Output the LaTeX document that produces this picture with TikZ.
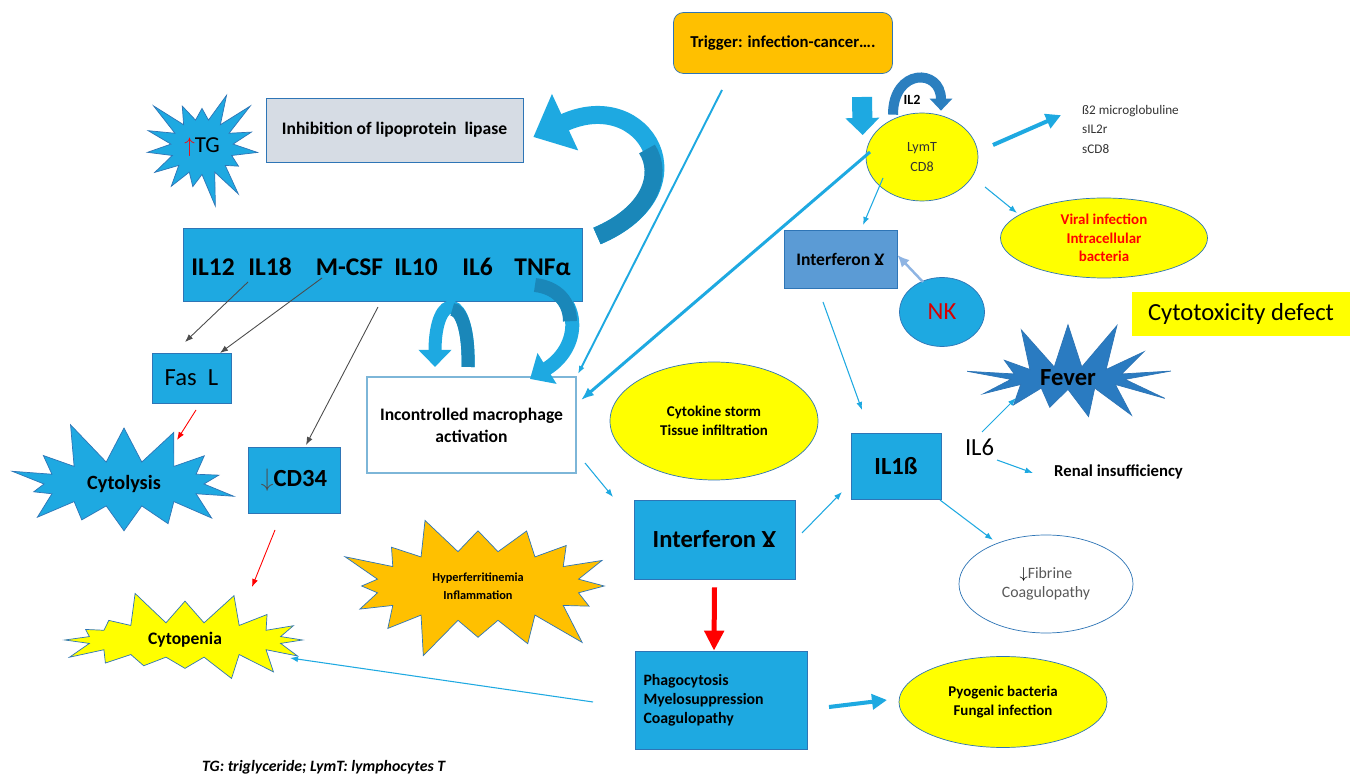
\documentclass[tikz,border=0pt]{standalone}
\usepackage{fontspec}
\setmainfont{Carlito}
\usetikzlibrary{arrows.meta, positioning, shapes.geometric, shapes.symbols}

\definecolor{hlhblue}{HTML}{1EA9E1}
\definecolor{hlhdark}{HTML}{1A87B9}
\definecolor{edgeblue}{HTML}{2E75B6}
\definecolor{steelblue}{HTML}{5B9BD5}
\definecolor{feverblue}{HTML}{2A7BC1}
\definecolor{nkline}{HTML}{8EB4E3}
\definecolor{macroedge}{HTML}{7DB6D8}
\definecolor{hlhyellow}{HTML}{FFFF00}
\definecolor{hlhorange}{HTML}{FFC000}
\definecolor{hlhgray}{HTML}{D6DCE4}

\newcommand{\fsize}[2]{\fontsize{#1}{#2}\selectfont}

\begin{document}
\begin{tikzpicture}[
  x=0.2mm, y=-0.2mm,
  box/.style={
    draw=edgeblue,
    fill=hlhblue,
    align=center,
    inner sep=0pt
  },
  blob/.style={
    ellipse,
    draw=edgeblue,
    fill=hlhyellow,
    align=center,
    inner sep=0pt
  },
  burst/.style={
    starburst,
    draw=edgeblue,
    fill=hlhblue,
    align=center,
    inner sep=0pt
  },
  link/.style={-{Latex[length=1.6mm, width=1.2mm]}, draw=hlhblue, line width=0.6pt},
  greylink/.style={-{Latex[length=1.6mm, width=1.2mm]}, draw=black!70, line width=0.5pt},
  redlink/.style={-{Latex[length=1.6mm, width=1.2mm]}, draw=red, line width=0.5pt},
  fatlink/.style={-{Triangle[length=3mm, width=3mm]}, draw=hlhblue, line width=2.3pt},
  bendarrow/.style={draw=hlhblue}
]

\fill[white] (0,0) rectangle (1352,778);
\useasboundingbox (0,0) rectangle (1352,778);

% --- Top row ---
\node[box, fill=hlhorange, rounded corners=2mm, minimum width=43.8mm, minimum height=12.2mm,
  font=\bfseries\fsize{9.5}{11}] (trigger) at (783,43) {Trigger: infection-cancer….};

\node[burst, random starburst=3, starburst points=15, starburst point height=7mm,
  minimum width=26.5mm, minimum height=25mm, font=\fsize{13}{15}] (tg) at (202,147)
{\textcolor{red}{$\uparrow$}TG};

\node[box, fill=hlhgray, minimum width=51.4mm, minimum height=12.8mm,
  font=\bfseries\fsize{10}{12}] (inhib) at (394.5,130) {Inhibition of lipoprotein~~lipase};

% --- Cytokines ---
\node[box, minimum width=79.8mm, minimum height=14.6mm] (cyto) at (382.5,264.5) {};
\node[font=\bfseries\fsize{14.5}{16}] (il12) at (213,267) {IL12};
\node[font=\bfseries\fsize{14.5}{16}] (il18) at (270,267) {IL18};
\node[font=\bfseries\fsize{14.5}{16}] (mcsf) at (349.5,267) {M-CSF};
\node[font=\bfseries\fsize{14.5}{16}] (il10) at (416,267) {IL10};
\node[font=\bfseries\fsize{14.5}{16}] (il6a) at (477.5,267) {IL6};
\node[font=\bfseries\fsize{14.5}{16}] (tnfa) at (542.5,267) {TNFα};

% --- Left column ---
\node[box, minimum width=15.8mm, minimum height=10mm, font=\fsize{14}{16}] (fasl) at (191.5,378)
{Fas~~L};

\node[burst, random starburst=11, starburst points=14, starburst point height=9mm,
  minimum width=50mm, minimum height=27mm, font=\bfseries\fsize{11.5}{13}] (cytolysis) at (124,484)
{Cytolysis};

\node[box, minimum width=18.4mm, minimum height=13.2mm, font=\bfseries\fsize{14}{16}] (cd34) at (294,480)
{\textcolor{black!70}{$\downarrow$}CD34};

\node[burst, fill=hlhyellow, random starburst=5, starburst points=16, starburst point height=7mm,
  minimum width=53mm, minimum height=21mm, font=\bfseries\fsize{10}{12}] (cytopenia) at (185,640)
{Cytopenia};

\node[burst, fill=hlhorange, random starburst=9, starburst points=16, starburst point height=9mm,
  minimum width=59mm, minimum height=32mm, font=\bfseries\fsize{7}{10.2}] (hyper) at (478,586)
{Hyperferritinemia\\Inflammation};

% --- Macrophage and interferon ---
\node[box, fill=white, draw=macroedge, line width=1.2pt, minimum width=41.8mm, minimum height=19.2mm,
  font=\bfseries\fsize{10}{12.5}] (macro) at (471.5,425) {Incontrolled macrophage\\activation};

\node[blob, minimum width=41.6mm, minimum height=23.6mm, font=\bfseries\fsize{8.5}{10.8}] (storm)
at (714,421) {Cytokine storm\\Tissue infiltration};

\node[box, minimum width=32.2mm, minimum height=15.8mm, font=\bfseries\fsize{14}{16}] (ifn)
at (714.5,539.5) {Interferon Ɣ};

\node[box, minimum width=34.4mm, minimum height=19.6mm, align=left, text width=31mm,
  font=\bfseries\fsize{9}{10.8}] (phago) at (721,700) {Phagocytosis\\Myelosuppression\\Coagulopathy};

\node[blob, minimum width=41.6mm, minimum height=18.2mm, font=\bfseries\fsize{8.5}{10.5}] (pyogenic)
at (1003,702) {Pyogenic bacteria\\Fungal infection};

% --- Right side ---
\node[box, minimum width=18mm, minimum height=13.2mm, font=\bfseries\fsize{14}{16}] (il1b)
at (896,466) {IL1ß};

\node[blob, fill=white, minimum width=34.8mm, minimum height=19.6mm, text=black!65,
  font=\fsize{9}{10.8}] (fibrine) at (1046,584) {\textcolor{black}{$\downarrow$}Fibrine\\Coagulopathy};

\node[font=\fsize{14}{16}] (il6b) at (979.5,447) {IL6};
\node[anchor=west, font=\bfseries\fsize{9.5}{11}] (renal) at (1048,472) {Renal insufficiency};

\node[burst, fill=feverblue, random starburst=4, starburst points=13, starburst point height=10mm,
  minimum width=43mm, minimum height=24mm, font=\bfseries\fsize{14}{16}] (fever) at (1068,378) {Fever};

\node[ellipse, draw=edgeblue, fill=hlhblue, inner sep=0pt, minimum width=17mm, minimum height=13.8mm,
  text=red!85!black, font=\fsize{14}{16}] (nk) at (942,312) {NK};

\node[box, fill=steelblue, minimum width=22.6mm, minimum height=11.6mm, font=\bfseries\fsize{10}{12}]
(ifnup) at (840.5,259) {Interferon Ɣ};

\node[blob, minimum width=22.4mm, minimum height=17.6mm, text=black!80, font=\fsize{8}{11.4}] (lymt)
at (922,157) {LymT\\CD8};

\node[font=\bfseries\fsize{8}{9}] (il2) at (912,100) {IL2};

\node[anchor=north west, align=left, text=black!80, font=\fsize{7.5}{11}] (markers) at (1076,99)
{ß2 microglobuline\\sIL2r\\sCD8};

\node[blob, minimum width=41.4mm, minimum height=16mm, text=red, font=\bfseries\fsize{8.5}{10.4}]
(viral) at (1104,238) {Viral infection\\Intracellular\\bacteria};

\node[fill=hlhyellow, inner sep=0pt, minimum width=43.6mm, minimum height=8.8mm, font=\fsize{14}{16}]
(cytotox) at (1241,314) {Cytotoxicity defect};

\node[anchor=west, font=\bfseries\itshape\fsize{9}{11}] (note) at (196,767)
{TG: triglyceride; LymT: lymphocytes T};

% --- Block arrows ---
\draw[bendarrow, line width=3.6mm, -{Triangle[length=7mm, width=12mm]}]
  ([xshift=42.9mm, yshift=5.7mm]cyto.center) .. controls (705,190) and (645,85) .. ([xshift=2mm, yshift=-1.4mm]inhib.east);
\draw[bendarrow, draw=hlhdark, line width=3.6mm]
  ([xshift=42.9mm, yshift=5.7mm]cyto.center) .. controls (651,213) and (663,174) .. (647,149);

\draw[bendarrow, line width=2.6mm, -{Triangle[length=3.4mm, width=6.4mm]}]
  ([xshift=-0.7mm, yshift=1.8mm]macro.north) .. controls (470,290) and (435,290) .. ([xshift=-7.3mm, yshift=1.8mm]macro.north);
\draw[bendarrow, draw=hlhdark, line width=2.6mm]
  ([xshift=-0.7mm, yshift=1.8mm]macro.north) .. controls (469,329) and (460.75,309.5) .. (452.25,309.5);

\draw[bendarrow, line width=2.8mm, -{Triangle[length=4mm, width=7mm]}]
  ([xshift=-1.5mm, yshift=-3.6mm]tnfa.center) .. controls (580,290) and (585,345) .. ([xshift=11.7mm, yshift=-0.6mm]macro.north);
\draw[bendarrow, draw=hlhdark, line width=2.8mm]
  ([xshift=-1.5mm, yshift=-3.6mm]tnfa.center) .. controls (557.5,287.5) and (570,302.5) .. (570,321.25);

\draw[bendarrow, draw=edgeblue!80!hlhblue, line width=2mm, -{Triangle[length=2.4mm, width=4.4mm]}]
  ([xshift=-5.8mm, yshift=-0.4mm]lymt.north) .. controls (893,68) and (941,68) .. ([xshift=3.8mm, yshift=0.4mm]lymt.north);

\coordinate (lymtin) at (862,97);
\draw[bendarrow, line width=4mm, -{Triangle[length=3.4mm, width=6.6mm]}]
  (lymtin) -- ([xshift=-0.6mm, yshift=4.4mm]lymt.west);

\draw[draw=red, line width=1mm, -{Triangle[length=4mm, width=3.8mm]}]
  ([yshift=-1.6mm]ifn.south) -- ([xshift=-1.4mm]phago.north);

% --- Connectors ---
\draw[greylink] ([xshift=-4.4mm, yshift=-3mm]il18.center) -- ([xshift=-1.3mm, yshift=7.2mm]fasl.center);
\draw[greylink] ([xshift=-5.5mm, yshift=-2.2mm]mcsf.center) -- ([xshift=5.7mm, yshift=5mm]fasl.center);
\draw[greylink] ([xshift=-0.9mm, yshift=-8.5mm]cyto.center) -- ([xshift=2.4mm, yshift=7mm]cd34.center);

\draw[redlink] ([xshift=0.9mm, yshift=-6.4mm]fasl.center) -- ([xshift=10.6mm, yshift=8.8mm]cytolysis.center);
\draw[redlink] ([xshift=-3.8mm, yshift=-10mm]cd34.center) -- ([xshift=13.4mm, yshift=10.6mm]cytopenia.center);

\draw[link, line width=1.1pt] ([xshift=-12.2mm, yshift=-9.4mm]trigger.center) -- ([xshift=0.2mm, yshift=0.4mm]macro.north east);
\draw[link, line width=1.7pt, -{Latex[length=2.6mm, width=2mm]}] ([xshift=-10.4mm, yshift=1mm]lymt.center) -- ([xshift=0.8mm, yshift=5mm]macro.east);

\draw[link] ([xshift=22.7mm, yshift=-7.6mm]macro.center) -- ([xshift=-20.3mm, yshift=8.5mm]ifn.center);
\draw[link] ([xshift=-25.6mm, yshift=-0.4mm]phago.center) -- ([xshift=21mm, yshift=-3.6mm]cytopenia.center);
\draw[fatlink] ([xshift=21.6mm, yshift=-1.4mm]phago.center) -- ([xshift=-23.2mm, yshift=0.4mm]pyogenic.center);

\draw[link] ([xshift=17.5mm, yshift=1.3mm]ifn.center) -- ([xshift=-10.8mm, yshift=-5.2mm]il1b.center);
\draw[link] ([xshift=8.8mm, yshift=-6.8mm]il1b.center) -- ([xshift=-10.6mm, yshift=8.8mm]fibrine.center);

\draw[link] ([xshift=0.5mm, yshift=3mm]il6b.center) -- ([xshift=-10.4mm, yshift=-4mm]fever.center);
\draw[link] ([xshift=3.5mm, yshift=-2.6mm]il6b.center) -- ([xshift=-3mm, yshift=-0.2mm]renal.west);

\draw[link, draw=nkline, line width=1.4pt, -{Latex[length=2.4mm, width=2.2mm]}]
  ([xshift=-3.8mm, yshift=6mm]nk.center) -- ([yshift=0.8mm]ifnup.east);
\draw[link] ([xshift=-3.5mm, yshift=-8.6mm]ifnup.center) -- ([xshift=-6.8mm, yshift=11.2mm]il1b.center);

\draw[link] ([xshift=-7.8mm, yshift=-4.2mm]lymt.center) -- ([xshift=4.5mm, yshift=6.8mm]ifnup.center);
\draw[link] ([xshift=12.6mm, yshift=-6mm]lymt.center) -- ([xshift=-17.4mm, yshift=5mm]viral.center);
\draw[fatlink] ([xshift=14.2mm, yshift=2.4mm]lymt.center) -- ([xshift=-3mm, yshift=2.8mm]markers.west);

\end{tikzpicture}
\end{document}
